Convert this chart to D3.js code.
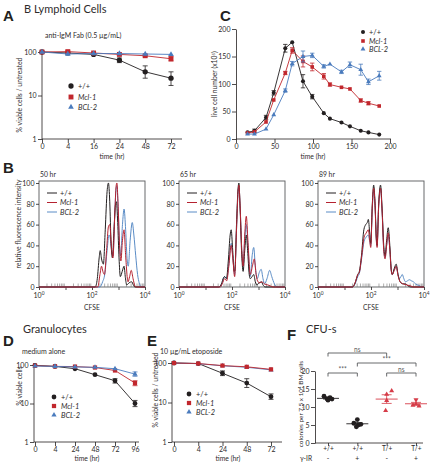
<!DOCTYPE html>
<html><head><meta charset="utf-8">
<script src="https://cdn.jsdelivr.net/npm/d3@7"></script>
<style>
body{margin:0;background:#fff}
</style>
</head><body>
<svg id="c" width="432" height="464" font-family="Lato,sans-serif" font-weight="400" fill="#2e2b2c"></svg>
<script>
// ---------- DATA ----------
// Panel A: B lymphoid cells, anti-IgM Fab
const timeA = ["0","4","16","24","48","72"];
const aWT   = [100, 95, 88, 65, 35, 25];
const aWTlo = [null, null, 84, 57, 25, 17];
const aWThi = [null, null, 92, 73, 48, 35];
const aMcl  = [100, 102, 95, 88, 82, 70];
const aMclLo= [null, 97, null, 84, 78, 62];
const aMclHi= [null, 107, null, 92, 86, 78];
const aBcl  = [100, 90, 92, 92, 90, 88];

// Panel C: live cell number over time
const cTimeWT  = [15, 24, 39, 49, 64, 73, 87, 99, 114, 122, 137, 148, 162, 172, 186];
const cWT      = [12, 15, 39, 84, 165, 176, 105, 77, 47, 37, 30, 23, 15, 12, 8];
const cWTerr   = [2, 3, 4, 4, 7, 2, 12, 4, 2, 2, 1, 1, 1, 1, 1];
const cMcl     = [11, 13, 31, 71, 120, 161, 141, 131, 114, 99, 94, 91, 70, 65, 60];
const cMclErr  = [1, 1, 2, 2, 3, 5, 10, 7, 5, 3, 2, 2, 3, 3, 2];
const cBcl     = [9, 9, 18, 44, 88, 137, 150, 152, 132, 136, 122, 135, 126, 104, 115];
const cBclErr  = [1, 1, 1, 2, 3, 4, 10, 4, 3, 2, 3, 5, 10, 5, 8];

// Panel B: CFSE histograms, [log10 CFSE, relative intensity]
const hist50WT  = [[0,0],[2.12,0],[2.2,8],[2.27,28],[2.31,35],[2.36,27],[2.43,22],[2.5,55],[2.57,92],[2.62,100],[2.67,82],[2.72,42],[2.77,28],[2.83,55],[2.88,78],[2.92,82],[2.97,62],[3.02,28],[3.07,10],[3.14,15],[3.21,20],[3.26,9],[3.31,2],[3.4,4],[3.5,5],[3.56,2],[3.62,0],[4,0]];
const hist50Mcl = [[0,0],[2.22,0],[2.3,12],[2.36,20],[2.41,15],[2.47,12],[2.55,35],[2.62,58],[2.67,60],[2.73,40],[2.79,28],[2.86,70],[2.91,97],[2.94,100],[2.98,82],[3.04,40],[3.09,25],[3.15,45],[3.21,55],[3.27,30],[3.36,5],[3.42,10],[3.48,16],[3.55,8],[3.62,1],[3.67,0],[4,0]];
const hist50Bcl = [[0,0],[2.3,0],[2.4,5],[2.48,12],[2.57,35],[2.64,50],[2.68,48],[2.74,35],[2.79,30],[2.86,70],[2.91,95],[2.94,97],[2.98,80],[3.04,40],[3.08,30],[3.15,60],[3.21,75],[3.27,55],[3.33,25],[3.37,20],[3.44,45],[3.52,62],[3.58,50],[3.65,30],[3.72,12],[3.78,4],[3.86,0],[4,0]];

const hist65WT  = [[0,0],[1.5,0],[1.6,3],[1.68,9],[1.72,10],[1.79,8],[1.86,25],[1.93,50],[1.97,55],[2.02,38],[2.08,15],[2.11,16],[2.17,60],[2.23,95],[2.26,100],[2.3,80],[2.36,35],[2.42,15],[2.48,35],[2.54,50],[2.59,35],[2.65,12],[2.69,8],[2.76,10],[2.82,12],[2.88,5],[2.94,2],[3.03,4],[3.11,5],[3.17,2],[3.25,0],[4,0]];
const hist65Mcl = [[0,0],[1.55,0],[1.63,3],[1.72,8],[1.8,6],[1.88,20],[1.97,40],[2.03,28],[2.1,10],[2.17,55],[2.23,92],[2.26,98],[2.31,75],[2.37,35],[2.42,20],[2.48,50],[2.54,68],[2.6,45],[2.69,12],[2.77,20],[2.84,27],[2.91,12],[2.98,5],[3.05,4],[3.13,5],[3.22,3],[3.35,2],[3.45,1],[3.55,0],[4,0]];
const hist65Bcl = [[0,0],[1.55,0],[1.63,4],[1.72,10],[1.8,8],[1.88,22],[1.97,42],[2.03,30],[2.1,12],[2.17,55],[2.23,92],[2.26,97],[2.31,75],[2.37,35],[2.42,20],[2.48,45],[2.54,60],[2.6,40],[2.69,10],[2.76,30],[2.82,38],[2.88,20],[2.95,8],[3.03,14],[3.1,17],[3.17,8],[3.23,3],[3.32,8],[3.42,16],[3.5,10],[3.6,3],[3.7,0],[4,0]];

const hist89WT  = [[0,0],[1.3,0],[1.4,4],[1.5,12],[1.56,15],[1.64,30],[1.73,55],[1.8,60],[1.86,62],[1.9,65],[1.95,52],[1.99,42],[2.05,80],[2.1,98],[2.15,82],[2.2,48],[2.23,40],[2.29,80],[2.36,98],[2.42,75],[2.48,40],[2.53,30],[2.59,45],[2.65,57],[2.71,40],[2.76,18],[2.8,12],[2.88,18],[2.95,22],[3.02,12],[3.1,5],[3.2,3],[3.3,3],[3.4,1],[3.5,0],[4,0]];
const hist89Mcl = [[0,0],[1.3,0],[1.4,4],[1.5,12],[1.56,14],[1.64,28],[1.74,48],[1.82,52],[1.9,55],[1.95,45],[1.99,38],[2.05,78],[2.1,95],[2.15,80],[2.2,45],[2.23,38],[2.29,78],[2.36,95],[2.42,72],[2.48,36],[2.53,27],[2.59,40],[2.65,52],[2.71,36],[2.76,17],[2.8,12],[2.88,16],[2.95,20],[3.02,11],[3.1,5],[3.22,3],[3.35,2],[3.5,1],[3.6,0],[4,0]];
const hist89Bcl = [[0,0],[1.3,0],[1.4,3],[1.5,10],[1.56,13],[1.64,26],[1.74,44],[1.82,48],[1.9,50],[1.95,44],[1.99,40],[2.05,76],[2.1,93],[2.15,80],[2.2,46],[2.23,40],[2.29,78],[2.36,95],[2.42,72],[2.48,36],[2.53,28],[2.59,40],[2.65,50],[2.71,36],[2.76,17],[2.8,12],[2.88,17],[2.95,20],[3.02,12],[3.08,8],[3.13,10],[3.18,12],[3.24,8],[3.3,5],[3.38,6],[3.45,7],[3.52,6],[3.6,5],[3.68,3],[3.75,2],[3.85,1],[3.9,0],[4,0]];

// Panel D: granulocytes, medium alone
const timeD = ["0","4","24","48","72","96"];
const dWT   = [98, 92, 80, 56, 39, 10];
const dWTlo = [null, null, null, null, 34, 8.3];
const dWThi = [null, null, null, null, 44, 12];
const dMcl  = [96, 92, 91, 86, 72, 34];
const dMclLo= [null, null, null, null, null, 29];
const dMclHi= [null, null, null, null, null, 39];
const dBcl  = [94, 92, 89, 87, 80, 58];
const dBclLo= [null, null, null, null, null, 51];
const dBclHi= [null, null, null, null, null, 66];

// Panel E: granulocytes, etoposide
const timeE = ["0","4","24","48","72"];
const eWT   = [100, 97, 55, 31, 14];
const eWTlo = [null, null, 48, 24, 12];
const eWThi = [null, null, 63, 40, 16.5];
const eMcl  = [100, 97, 86, 80, 69];
const eBcl  = [100, 96, 85, 78, 67];

// Panel F: CFU-s
const fGroups = ["+/+ -", "+/+ +", "T/+ -", "T/+ +"];
const fGenotype = ["+/+", "+/+", "T/+", "T/+"];
const fIR = ["-", "+", "-", "+"];
const fPoints = [
  [13.0, 12.6, 12.3, 12.2, 11.9],
  [6.5, 5.5, 5.2, 5.0, 4.5],
  [14.5, 13.5, 11.8, 9.0],
  [12.0, 10.8, 10.5, 10.3]
];

// ---------- STYLE ----------
const BLACK = "#231f20", RED = "#c1272d", BLUE = "#4a7bbd", GREY = "#58595b";
const HRED = "#b52230", HBLUE = "#5a8cc6", FRED = "#d63c48";
const TXT = "#2e2b2c";
const svg = d3.select("#c");
const FONT = "Lato,sans-serif";

function styleAxis(ax, fs) {
  ax.attr("font-family", FONT).attr("font-size", fs);
  ax.selectAll("path,line").attr("stroke", BLACK).attr("stroke-width", 0.8);
  ax.selectAll("text").attr("fill", TXT);
}
function sym(g, type, x, y, size, fill) {
  g.append("path").attr("d", d3.symbol().type(type).size(size)())
    .attr("transform", `translate(${x},${y})`).attr("fill", fill);
}
function errBar(g, x, y1, y2, cap, color) {
  g.append("path").attr("d", `M${x},${y1}V${y2}M${x-cap},${y1}H${x+cap}M${x-cap},${y2}H${x+cap}`)
    .attr("stroke", color).attr("stroke-width", 0.8).attr("fill", "none");
}
function txt(x, y, s, fs, opts = {}) {
  const t = svg.append("text").attr("x", x).attr("y", y).attr("font-size", fs).text(s);
  if (opts.anchor) t.attr("text-anchor", opts.anchor);
  if (opts.weight) t.attr("font-weight", opts.weight);
  if (opts.family) t.attr("font-family", opts.family);
  if (opts.italic) t.attr("font-style", "italic");
  if (opts.fill) t.attr("fill", opts.fill);
  return t;
}
function vlabel(x, y, s, fs) {
  return svg.append("text").attr("transform", `translate(${x},${y}) rotate(-90)`)
    .attr("text-anchor", "middle").attr("font-size", fs).text(s);
}
const LETTER = "'Liberation Sans',Arial,sans-serif";

// ---------- PANEL LETTERS & TITLES ----------
txt(3, 21, "A", 15, {weight: "bold", family: LETTER, fill: BLACK});
txt(24, 13, "B Lymphoid Cells", 11);
txt(45, 38, "anti-IgM Fab (0.5 µg/mL)", 7);
txt(220, 21, "C", 15, {weight: "bold", family: LETTER, fill: BLACK});
txt(3, 173, "B", 15, {weight: "bold", family: LETTER, fill: BLACK});
txt(3, 346, "D", 15, {weight: "bold", family: LETTER, fill: BLACK});
txt(23, 333, "Granulocytes", 11);
txt(22, 354, "medium alone", 7);
txt(147, 346, "E", 15, {weight: "bold", family: LETTER, fill: BLACK});
txt(160, 354, "10 µg/mL etoposide", 7);
txt(287, 340, "F", 15, {weight: "bold", family: LETTER, fill: BLACK});
txt(306, 333, "CFU-s", 11);

// ---------- generic survival panel (log y, categorical x) ----------
function survivalPanel(cfg) {
  const g = svg.append("g");
  const x = d3.scalePoint().domain(cfg.times).range(cfg.xr);
  const y = d3.scaleLog().domain([1, 100]).range(cfg.yr);
  g.append("g").attr("transform", `translate(0,${cfg.yr[0]})`)
    .call(d3.axisBottom(x).tickSize(4).tickSizeOuter(0).tickPadding(1.5))
    .call(ax => { ax.select(".domain").attr("d", `M${cfg.ax0},0H${cfg.axEnd}`); styleAxis(ax, 7); });
  g.append("g").attr("transform", `translate(${cfg.ax0},0)`)
    .call(d3.axisLeft(y).tickValues([1, 10, 100]).tickFormat(d3.format("d")).tickSize(4).tickSizeOuter(0).tickPadding(1.5))
    .call(ax => { ax.select(".domain").attr("d", `M0,${cfg.yr[0]}V${cfg.yr[1]-2}`); styleAxis(ax, 7); });
  const line = d3.line().x((d, i) => x(cfg.times[i])).y(d => y(d));
  cfg.series.forEach(s => {
    g.append("path").attr("d", line(s.v)).attr("fill", "none").attr("stroke", s.color).attr("stroke-width", 0.9);
    if (s.lo) s.v.forEach((v, i) => { if (s.lo[i] != null) errBar(g, x(cfg.times[i]), y(s.lo[i]), y(s.hi[i]), 2.5, s.color); });
    s.v.forEach((v, i) => sym(g, s.type, x(cfg.times[i]), y(v), s.size, s.color));
  });
  // legend
  cfg.series.forEach((s, i) => {
    const ly = cfg.legY[i];
    sym(g, s.type, cfg.legX, ly, s.legSize || s.size, s.color);
    txt(cfg.legX + 7, ly + 2.5, s.name, 7.4, {italic: s.italic});
  });
  txt((cfg.xr[0] + cfg.axEnd) / 2, cfg.xlabY, "time (hr)", 6.8, {anchor: "middle"});
  vlabel(cfg.ylabX, cfg.ylabY, cfg.ylab, 6.8);
}

survivalPanel({
  times: timeA, xr: [42, 171], yr: [139, 52], ax0: 42, axEnd: 182,
  series: [
    {name: "+/+", v: aWT, lo: aWTlo, hi: aWThi, color: BLACK, type: d3.symbolCircle, size: 22},
    {name: "Mcl-1", v: aMcl, lo: aMclLo, hi: aMclHi, color: RED, type: d3.symbolSquare, size: 24, italic: true},
    {name: "BCL-2", v: aBcl, color: BLUE, type: d3.symbolTriangle, size: 14, italic: true}
  ],
  legX: 71, legY: [86, 97, 107], xlabY: 159, ylabX: 22, ylabY: 95, ylab: "% viable cells / untreated"
});

survivalPanel({
  times: timeD, xr: [35, 135], yr: [442, 365], ax0: 34, axEnd: 139,
  series: [
    {name: "+/+", v: dWT, lo: dWTlo, hi: dWThi, color: BLACK, type: d3.symbolCircle, size: 18},
    {name: "Mcl-1", v: dMcl, lo: dMclLo, hi: dMclHi, color: RED, type: d3.symbolSquare, size: 18, italic: true},
    {name: "BCL-2", v: dBcl, lo: dBclLo, hi: dBclHi, color: BLUE, type: d3.symbolTriangle, size: 12, italic: true}
  ],
  legX: 54, legY: [397, 406, 415], xlabY: 461, ylabX: 22, ylabY: 386, ylab: "% viable cells"
});

survivalPanel({
  times: timeE, xr: [174, 271], yr: [442, 363], ax0: 172, axEnd: 282,
  series: [
    {name: "+/+", v: eWT, lo: eWTlo, hi: eWThi, color: BLACK, type: d3.symbolCircle, size: 18},
    {name: "BCL-2", v: eBcl, color: BLUE, type: d3.symbolTriangle, size: 12, italic: true},
    {name: "Mcl-1", v: eMcl, color: RED, type: d3.symbolSquare, size: 18, italic: true}
  ],
  legX: 189, legY: [394, 412, 403], xlabY: 461, ylabX: 158, ylabY: 390, ylab: "% viable cells / untreated"
});

// ---------- PANEL C ----------
(function () {
  const g = svg.append("g");
  const x = d3.scaleLinear().domain([0, 200]).range([236, 390]);
  const y = d3.scaleLinear().domain([0, 200]).range([139, 29]);
  g.append("g").attr("transform", "translate(0,139)")
    .call(d3.axisBottom(x).tickValues([0, 50, 100, 150, 200]).tickSize(4).tickSizeOuter(0).tickPadding(1.5))
    .call(ax => { ax.select(".domain").attr("d", "M236,0H391"); styleAxis(ax, 7); });
  g.append("g").attr("transform", "translate(236,0)")
    .call(d3.axisLeft(y).tickValues([0, 50, 100, 150, 200]).tickSize(4).tickSizeOuter(0).tickPadding(1.5))
    .call(ax => styleAxis(ax, 7));
  const series = [
    {name: "+/+", v: cWT, e: cWTerr, color: BLACK, type: d3.symbolCircle, size: 13},
    {name: "Mcl-1", v: cMcl, e: cMclErr, color: RED, type: d3.symbolSquare, size: 13, italic: true},
    {name: "BCL-2", v: cBcl, e: cBclErr, color: BLUE, type: d3.symbolTriangle, size: 10, italic: true}
  ];
  series.forEach(s => {
    const line = d3.line().x((d, i) => x(cTimeWT[i])).y(d => y(d));
    g.append("path").attr("d", line(s.v)).attr("fill", "none").attr("stroke", s.color).attr("stroke-width", 0.9);
    s.v.forEach((v, i) => { if (s.e[i] >= 3) errBar(g, x(cTimeWT[i]), y(v - s.e[i]), y(v + s.e[i]), 2.2, s.color); });
    s.v.forEach((v, i) => sym(g, s.type, x(cTimeWT[i]), y(v), s.size, s.color));
  });
  series.forEach((s, i) => {
    const ly = [32, 41, 49][i];
    sym(g, s.type, 363, ly, s.size, s.color);
    txt(369, ly + 2.5, s.name, 7.4, {italic: s.italic});
  });
  txt(313, 159, "time (hr)", 6.8, {anchor: "middle"});
  const t = svg.append("text").attr("transform", "translate(217,84) rotate(-90)").attr("text-anchor", "middle").attr("font-size", 6.8);
  t.append("tspan").text("live cell number (x10");
  t.append("tspan").attr("font-size", 4.6).attr("dy", -2.5).text("5");
  t.append("tspan").attr("dy", 2.5).text(")");
})();

// ---------- PANEL B ----------
function histPanel(x0, label, curves) {
  const g = svg.append("g");
  const x = d3.scaleLinear().domain([0, 4]).range([x0, x0 + 106]);
  const y = d3.scaleLinear().domain([0, 100]).range([287, 183]);
  g.append("rect").attr("x", x0).attr("y", 181).attr("width", 106).attr("height", 106)
    .attr("fill", "none").attr("stroke", GREY).attr("stroke-width", 0.9);
  // minor log ticks (inward)
  const minors = [];
  for (let d = 0; d < 4; d++) for (let k = 2; k <= 9; k++) minors.push(d + Math.log10(k));
  g.selectAll(".mn").data(minors).join("line")
    .attr("x1", d => x(d)).attr("x2", d => x(d)).attr("y1", 287).attr("y2", 283.5)
    .attr("stroke", "#777").attr("stroke-width", 0.6);
  g.append("g").attr("transform", "translate(0,287)")
    .call(d3.axisBottom(x).tickValues([0, 1, 2, 3, 4]).tickFormat("").tickSize(3).tickSizeOuter(0))
    .call(ax => { ax.select(".domain").remove(); styleAxis(ax, 7); });
  [0, 2, 4].forEach(p => {
    const t = g.append("text").attr("x", x(p)).attr("y", 297.5).attr("text-anchor", "middle").attr("font-size", 7);
    t.append("tspan").text("10");
    t.append("tspan").attr("font-size", 4.8).attr("dy", -3).text(p);
  });
  g.append("g").attr("transform", `translate(${x0},0)`)
    .call(d3.axisLeft(y).tickValues([0, 20, 40, 60, 80, 100]).tickSize(3).tickSizeOuter(0).tickPadding(1.5))
    .call(ax => { ax.select(".domain").remove(); styleAxis(ax, 7); });
  const line = d3.line().x(d => x(d[0])).y(d => y(d[1])).curve(d3.curveMonotoneX);
  curves.forEach(c => {
    g.append("path").attr("d", line(c.d)).attr("fill", "none").attr("stroke", c.color).attr("stroke-width", 1);
  });
  // legend (black, red, blue)
  [["+/+", BLACK, false], ["Mcl-1", HRED, true], ["BCL-2", HBLUE, true]].forEach((l, i) => {
    const ly = 193 + i * 9.5;
    g.append("line").attr("x1", x0 + 8).attr("x2", x0 + 18).attr("y1", ly).attr("y2", ly).attr("stroke", l[1]).attr("stroke-width", 1);
    g.append("text").attr("x", x0 + 21).attr("y", ly + 2.5).attr("font-size", 7.4).attr("font-style", l[2] ? "italic" : "normal").text(l[0]);
  });
  txt(x0 + 1, 177, label, 6.8);
  txt(x0 + 53, 310, "CFSE", 6.8, {anchor: "middle"});
}
histPanel(39, "50 hr", [{d: hist50Bcl, color: HBLUE}, {d: hist50WT, color: BLACK}, {d: hist50Mcl, color: HRED}]);
histPanel(179, "65 hr", [{d: hist65Bcl, color: HBLUE}, {d: hist65WT, color: BLACK}, {d: hist65Mcl, color: HRED}]);
histPanel(318, "89 hr", [{d: hist89Bcl, color: HBLUE}, {d: hist89WT, color: BLACK}, {d: hist89Mcl, color: HRED}]);
vlabel(21, 224, "relative fluorescence intensity", 6.8);

// ---------- PANEL F ----------
(function () {
  const g = svg.append("g");
  const x = d3.scalePoint().domain(fGroups).range([328, 416]);
  const y = d3.scaleLinear().domain([0, 20]).range([443, 371]);
  g.append("g").attr("transform", "translate(0,443)")
    .call(d3.axisBottom(x).tickSize(3).tickSizeOuter(0).tickFormat((d, i) => fGenotype[i]).tickPadding(0))
    .call(ax => { ax.select(".domain").attr("d", "M315,0H423"); styleAxis(ax, 6.6); });
  g.append("g").attr("transform", "translate(315,0)")
    .call(d3.axisLeft(y).tickValues([0, 5, 10, 15, 20]).tickSize(4).tickSizeOuter(0).tickPadding(1.5))
    .call(ax => styleAxis(ax, 7));
  fGroups.forEach((gr, i) => {
    txt(x(gr), 460.5, fIR[i], 6.8, {anchor: "middle"});
  });
  txt(300, 460.5, "γ-IR", 6.6);
  const jit = [[-4, 2, -1, 4, 0], [0, -3.5, 3.5, 1, -1], [5, 0, 0, -1], [0, 0, -3, 3]];
  const types = [d3.symbolCircle, d3.symbolCircle, d3.symbolTriangle, d3.symbolTriangle];
  const cols = [BLACK, BLACK, FRED, FRED];
  fPoints.forEach((pts, i) => {
    const cx = x(fGroups[i]);
    const m = d3.mean(pts), sem = d3.deviation(pts) / Math.sqrt(pts.length);
    pts.forEach((v, j) => {
      const flip = (i === 3 && j === 0);
      g.append("path").attr("d", d3.symbol().type(types[i]).size(i < 2 ? 18 : 11)())
        .attr("transform", `translate(${cx + jit[i][j]},${y(v)})${flip ? " rotate(180)" : ""}`)
        .attr("fill", cols[i]);
    });
    g.append("path").attr("d", `M${cx-11},${y(m)}H${cx+11}`).attr("stroke", cols[i]).attr("stroke-width", 0.9);
    errBar(g, cx, y(m - sem), y(m + sem), 5, cols[i]);
  });
  // significance brackets
  function bracket(a, b, yy, label) {
    const xa = x(fGroups[a]), xb = x(fGroups[b]);
    g.append("path").attr("d", `M${xa},${yy+3.5}V${yy}H${xb}V${yy+3.5}`)
      .attr("fill", "none").attr("stroke", GREY).attr("stroke-width", 0.9);
    txt((xa + xb) / 2, yy - 1.5, label, 6.6, {anchor: "middle", fill: GREY});
  }
  bracket(0, 2, 353, "ns");
  bracket(1, 3, 363, "***");
  bracket(0, 1, 373, "***");
  bracket(2, 3, 373, "ns");
  const t = svg.append("text").attr("transform", "translate(303,404) rotate(-90)").attr("text-anchor", "middle").attr("font-size", 6.4);
  t.append("tspan").text("colonies per 7.5 x 10");
  t.append("tspan").attr("font-size", 4.4).attr("dy", -2.5).text("4");
  t.append("tspan").attr("dy", 2.5).text(" BM cells");
})();
</script>
</body></html>
